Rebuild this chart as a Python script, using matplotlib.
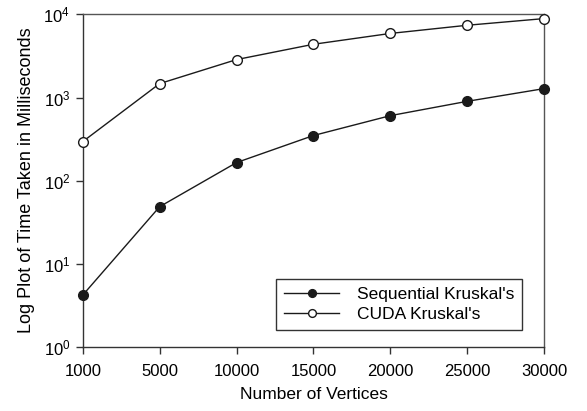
import matplotlib
matplotlib.use("Agg")
import matplotlib.pyplot as plt
from matplotlib.ticker import LogLocator, NullLocator

plt.rcParams['font.family'] = ['Liberation Sans', 'DejaVu Sans']

vertices = ['1000', '5000', '10000', '15000', '20000', '25000', '30000']
sequential_ms = [4.2, 48.6, 165, 349, 605, 900, 1280]
cuda_ms = [295, 1470, 2860, 4370, 5900, 7400, 8900]

fig = plt.figure(figsize=(5.87, 4.11), dpi=100)
ax = fig.add_axes([0.141, 0.156, 0.786, 0.809])

x = range(len(vertices))
ax.plot(x, sequential_ms, color='#1a1a1a', lw=1, marker='o', ms=7,
        mfc='#1a1a1a', mec='#1a1a1a', label="Sequential Kruskal's", clip_on=False, zorder=3)
ax.plot(x, cuda_ms, color='#1a1a1a', lw=1, marker='o', ms=7,
        mfc='white', mec='#1a1a1a', mew=1, label="CUDA Kruskal's", clip_on=False, zorder=3)

ax.set_yscale('log')
ax.set_ylim(1, 1e4)
ax.set_xlim(0, len(vertices) - 1)
ax.set_xticks(list(x))
ax.set_xticklabels(vertices)
ax.yaxis.set_major_locator(LogLocator(base=10, numticks=10))
ax.yaxis.set_minor_locator(NullLocator())

for s in ax.spines.values():
    s.set_color('#555555')
    s.set_linewidth(1)
ax.spines['left'].set_color('#333333')
ax.spines['bottom'].set_color('#333333')
ax.tick_params(axis='both', direction='out', length=5, width=1, color='#333333',
               labelsize=12)
ax.tick_params(axis='x', pad=7)
ax.tick_params(axis='y', pad=4)

ax.set_xlabel('Number of Vertices', fontsize=12.5, labelpad=6)
ax.set_ylabel('Log Plot of Time Taken in Milliseconds', fontsize=13, labelpad=6)

leg = ax.legend(loc='lower right', bbox_to_anchor=(0.952, 0.052), borderaxespad=0,
                fontsize=12.5, frameon=True, fancybox=False, edgecolor='black',
                handlelength=3.2, borderpad=0.45, labelspacing=0.25, handletextpad=1.0,
                markerscale=0.8)
leg.get_frame().set_linewidth(1)

fig.savefig('out.png', dpi=100)
